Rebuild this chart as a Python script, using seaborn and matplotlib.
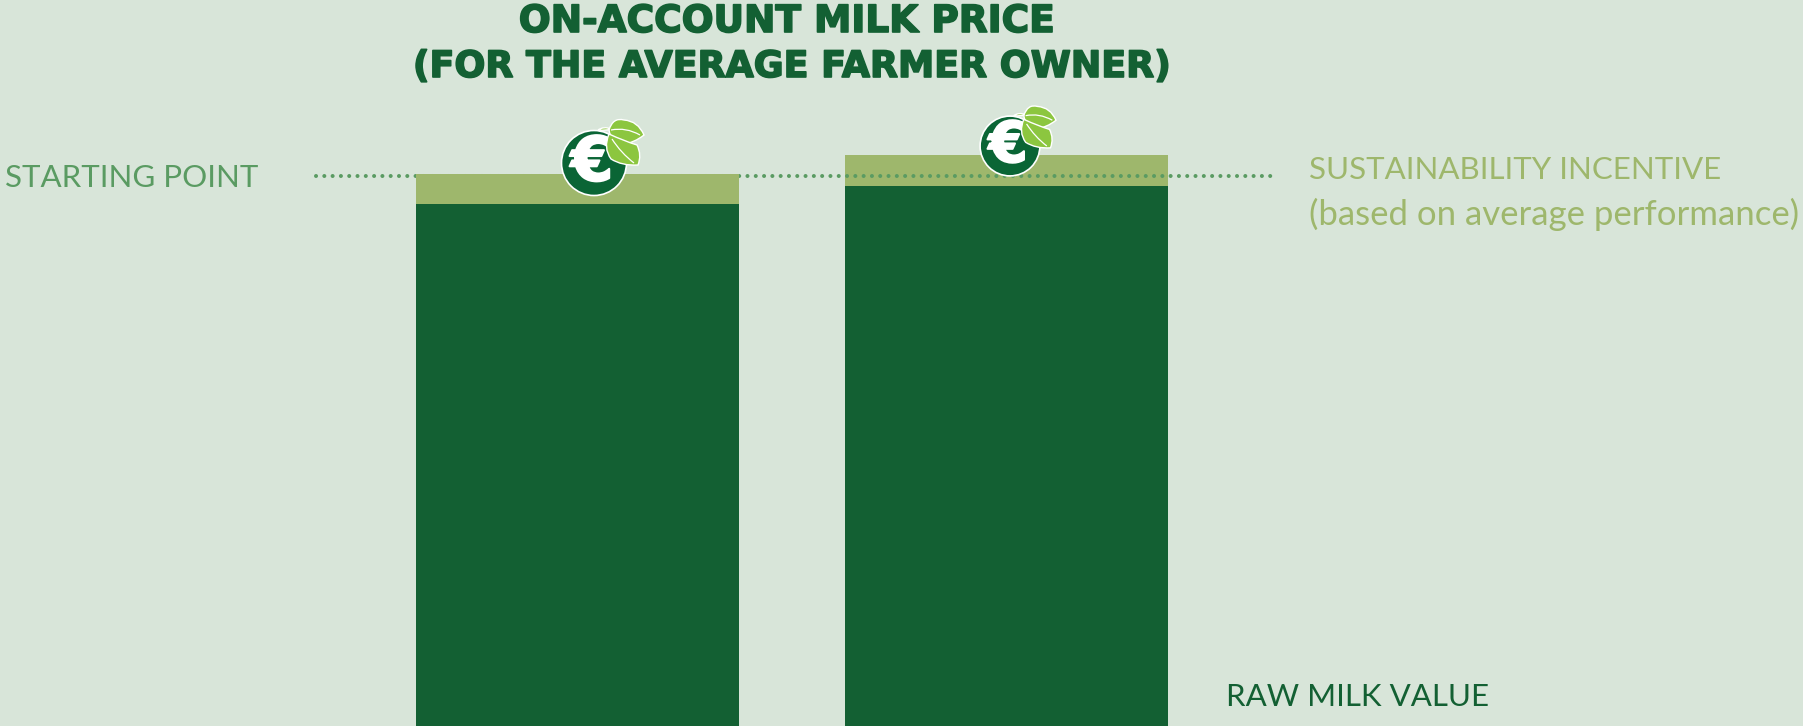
import matplotlib
matplotlib.use("Agg")
import matplotlib.pyplot as plt
from matplotlib.patches import Circle, PathPatch
from matplotlib.path import Path
import matplotlib.patheffects as pe
import seaborn as sns

# data (arbitrary units, the original has no axis)
bar_names = ["Bar 1", "Bar 2"]
raw_milk_value = [522, 540]
sustainability_incentive = [30, 31]
starting_point = 550

BG = "#d8e5d9"
DARK = "#136033"
LIGHT = "#9eb76c"
DOTS = "#5a9b62"
ICON = "#0a6535"
LEAF = "#8cc63f"

totals = [r + s for r, s in zip(raw_milk_value, sustainability_incentive)]

sns.set_theme(style="white")
plt.rcParams["font.family"] = ["Lato", "DejaVu Sans"]

fig = plt.figure(figsize=(18.03, 7.26), dpi=100, facecolor=BG)
ax = fig.add_axes([0, 0, 1, 1], facecolor=BG)

# stacked bars: total first, raw value over it
sns.barplot(x=bar_names, y=totals, color=LIGHT, saturation=1, width=0.753, linewidth=0, ax=ax)
sns.barplot(x=bar_names, y=raw_milk_value, color=DARK, saturation=1, width=0.753, linewidth=0, ax=ax)
ax.set_xlim(-1.346, 2.857)
ax.set_ylim(0, 726)
ax.axis("off")

# dotted line runs behind bar 1 but over bar 2
ax.patches[0].set_zorder(3)
ax.patches[2].set_zorder(3.1)
ax.patches[1].set_zorder(1)
ax.patches[3].set_zorder(1.1)
ax.plot([-0.609, 1.625], [starting_point, starting_point], color=DOTS, lw=2.9,
        linestyle=(0, (0.01, 2.05)), dash_capstyle="round", zorder=2)

# overlay in pixel coordinates for text and icons
top = fig.add_axes([0, 0, 1, 1], facecolor="none")
top.set_xlim(0, 1803)
top.set_ylim(726, 0)
top.axis("off")


def leaf(verts, cx, cy, k):
    codes = [Path.MOVETO] + [Path.CURVE3] * (len(verts) - 1)
    pts = [(cx + k * x, cy + k * y) for x, y in verts]
    top.add_patch(PathPatch(Path(pts, codes), facecolor=LEAF, edgecolor="white", lw=1, zorder=6))


def vein(verts, cx, cy, k):
    pts = [(cx + k * x, cy + k * y) for x, y in verts]
    codes = [Path.MOVETO, Path.CURVE3, Path.CURVE3]
    top.add_patch(PathPatch(Path(pts, codes), facecolor="none", edgecolor="white", lw=0.9, zorder=7))


def euro_icon(cx, cy, k):
    top.add_patch(Circle((cx, cy), 32.5 * k, facecolor=ICON, edgecolor="white", lw=1.2, zorder=5))
    top.text(cx - 2 * k, cy + 1 * k, "€", color="white", fontsize=44 * k, fontweight="bold",
             family="DejaVu Sans", ha="center", va="center", zorder=5.5,
             path_effects=[pe.withStroke(linewidth=1.5, foreground="white")])
    # small back leaf
    leaf([(4, -33), (10, -37), (17, -34), (11, -32), (4, -33)], cx, cy, k)
    # upper leaf
    leaf([(15, -33), (19, -46), (30, -43), (44, -42), (50, -28),
          (40, -20), (29, -19), (17, -20), (15, -33)], cx, cy, k)
    # lower leaf
    leaf([(15, -29), (30, -22), (43, -18), (48, -8), (44, 2),
          (28, 3), (17, -4), (9, -15), (15, -29)], cx, cy, k)
    vein([(17, -33), (32, -36), (46, -28)], cx, cy, k)
    vein([(18, -24), (27, -10), (40, 0)], cx, cy, k)


euro_icon(594, 163, 1.0)
euro_icon(1010, 146, 0.92)

title_fx = [pe.withStroke(linewidth=1.2, foreground=DARK)]
top.text(787, 32, "ON-ACCOUNT MILK PRICE", color=DARK, fontsize=27, fontweight="bold",
         family="DejaVu Sans", ha="center", va="baseline", path_effects=title_fx)
top.text(792, 77, "(FOR THE AVERAGE FARMER OWNER)", color=DARK, fontsize=26.2, fontweight="bold",
         family="DejaVu Sans", ha="center", va="baseline", path_effects=title_fx)

top.text(5, 178, "STARTING POINT", color=DOTS, fontsize=22.5, ha="left", va="center")
top.text(1309, 170, "SUSTAINABILITY INCENTIVE", color=LIGHT, fontsize=22.5, ha="left", va="center")
top.text(1309, 214, "(based on average performance)", color=LIGHT, fontsize=25, ha="left", va="center")
top.text(1226, 697, "RAW MILK VALUE", color=DARK, fontsize=22.5, ha="left", va="center")

fig.savefig("out.png", dpi=100, facecolor=BG)
